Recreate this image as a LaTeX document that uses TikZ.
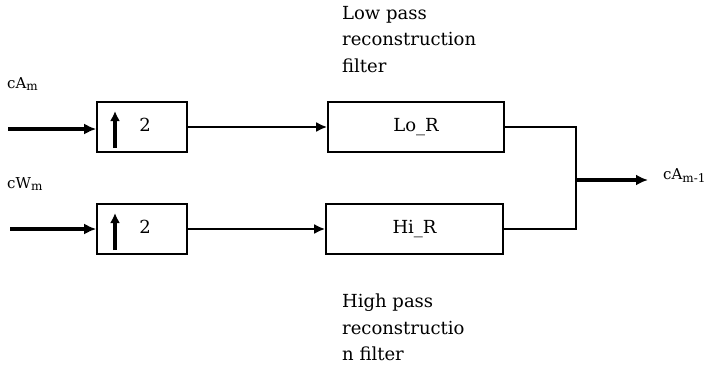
\documentclass[tikz,border=0pt]{standalone}
\usepackage{fontspec}
\setmainfont{DejaVu Serif}
\usetikzlibrary{arrows.meta}
\begin{document}
\begin{tikzpicture}
  [x=1pt,y=-1pt,every node/.style={font=\fontsize{18}{26.5}\selectfont},
   blk/.style={draw,line width=1.6pt,rectangle,inner sep=0pt,minimum height=50pt},
   sig/.style={font=\fontsize{15}{17}\selectfont,inner sep=0pt,anchor=base west},
   fat/.style={line width=3.6pt,-{Latex[length=12pt,width=11pt]}},
   mid/.style={line width=2.6pt,-{Latex[length=11pt,width=10pt]}}]
  \clip (0,0) rectangle (711,364);
  \node (up1)[blk,minimum width=90pt] at (142,127) {\hspace{6pt}\raisebox{5pt}{2}};
  \node (up2)[blk,minimum width=90pt] at (142,229) {\hspace{6pt}\raisebox{5pt}{2}};
  \node (lo)[blk,minimum width=176pt] at (416,127) {\raisebox{3pt}{Lo\_R}};
  \node (hi)[blk,minimum width=177pt] at (414.5,229) {\raisebox{5pt}{Hi\_R}};
  \node (cam)[sig] at (7,88) {cA\textsubscript{\large m}};
  \node (cwm)[sig] at (7,188) {cW\textsubscript{\large m}};
  \node (cao)[sig] at (663,179) {cA\textsubscript{\large m-1}};
  \node (lpf)[anchor=north west,inner sep=0pt,align=left] at (342,6)
    {Low pass\\reconstruction\\filter};
  \node (hpf)[anchor=north west,inner sep=0pt,align=left] at (342,294)
    {High pass\\reconstructio\\n filter};
  \coordinate (inA) at (8,129);
  \coordinate (inW) at (10,229);
  \coordinate (join) at (576,180);
  \coordinate (out) at (648,180);

  % up-sampling symbols
  \foreach \u in {up1,up2}
    \draw[line width=3.8pt,-{Latex[length=10pt,width=10pt]}] (\u.center) ++(-27,21) -- ++(0,-37);

  \draw[fat] (inA) -- (inA -| up1.west);
  \draw[fat] (inW) -- (inW -| up2.west);
  \foreach \from/\to in {up1/lo,up2/hi}
    \draw[mid] (\from) -- (\to);
  \draw[line width=1.6pt] (lo.east) -| (join) |- (hi.east);
  \draw[fat] (join) -- (out);
\end{tikzpicture}
\end{document}
